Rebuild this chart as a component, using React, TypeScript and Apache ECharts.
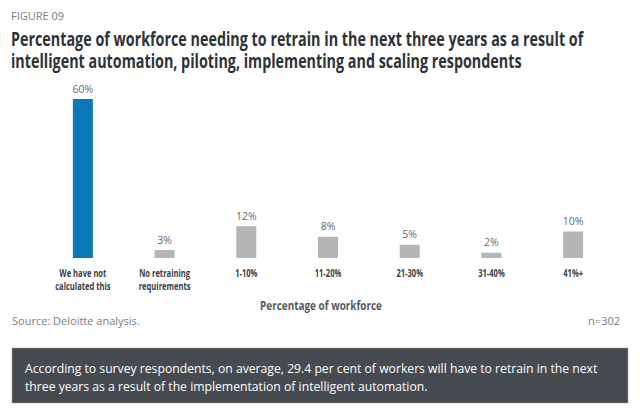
import React, { useEffect, useRef } from "react";
import * as echarts from "echarts";

const categories = [
  "We have not\ncalculated this",
  "No retraining\nrequirements",
  "1-10%",
  "11-20%",
  "21-30%",
  "31-40%",
  "41%+",
];
const values = [60, 3, 12, 8, 5, 2, 10];
const highlightIndex = 0;

const figureLabel = "FIGURE 09";
const titleLines = [
  "Percentage of workforce needing to retrain in the next three years as a result of",
  "intelligent automation, piloting, implementing and scaling respondents",
];
const axisTitle = "Percentage of workforce";
const sourceText = "Source: Deloitte analysis.";
const sampleText = "n=302";
const noteLines = [
  "According to survey respondents, on average, 29.4 per cent of workers will have to retrain in the next",
  "three years as a result of the implementation of intelligent automation.",
];

const SANS = "'Open Sans', 'Noto Sans', sans-serif";

function measure(text: string, font: string): number {
  const ctx = document.createElement("canvas").getContext("2d");
  if (!ctx) return text.length * 7;
  ctx.font = font;
  return ctx.measureText(text).width;
}

export default function App() {
  const ref = useRef<HTMLDivElement>(null);
  useEffect(() => {
    if (!ref.current) return;
    const chart = echarts.init(ref.current, null, { renderer: "svg" });
    chart.setOption({
      animation: false,
      backgroundColor: "#ffffff",
      grid: { left: 42, right: 26, top: 99, bottom: 154, containLabel: false },
      xAxis: {
        type: "category",
        data: categories,
        axisLine: { show: false },
        axisTick: { show: false },
        axisLabel: { show: false },
      },
      yAxis: {
        type: "value",
        min: 0,
        max: 60,
        show: false,
        splitLine: { show: false },
      },
      series: [
        {
          type: "bar",
          barWidth: 20,
          data: values.map((v, i) => ({
            value: v,
            itemStyle: { color: i === highlightIndex ? "#0a77b7" : "#b3b5b6" },
          })),
          label: {
            show: true,
            position: "top",
            distance: 5,
            formatter: "{c}%",
            fontFamily: SANS,
            fontSize: 10.5,
            color: "#666a6e",
          },
        },
      ],
    });

    const titleFont = `bold 19.5px 'Open Sans'`;
    const titleScale = 572 / measure(titleLines[0], titleFont);
    const catFont = `bold 11px 'Open Sans'`;
    const catScale = 47 / measure("We have not", catFont);
    const nameFont = `bold 13px 'Open Sans'`;
    const nameScale = 122 / measure(axisTitle, nameFont);
    const baseY = chart.convertToPixel({ yAxisIndex: 0 }, 0) as number;

    const catTexts = categories.map((c) => {
      const x = chart.convertToPixel({ xAxisIndex: 0 }, c) as number;
      return {
        type: "text",
        x,
        y: baseY + 9,
        scaleX: catScale,
        style: {
          text: c,
          fontFamily: SANS,
          fontWeight: "bold",
          fontSize: 11,
          lineHeight: 12.5,
          fill: "#3a3e44",
          align: "center",
          verticalAlign: "top",
        },
      };
    });

    chart.setOption({
      graphic: [
        ...catTexts,
        {
          type: "text",
          x: 321,
          y: baseY + 40,
          scaleX: nameScale,
          style: {
            text: axisTitle,
            fontFamily: SANS,
            fontWeight: "bold",
            fontSize: 13,
            fill: "#555a61",
            align: "center",
            verticalAlign: "top",
          },
        },
        {
          type: "text",
          x: 11,
          y: 10,
          style: { text: figureLabel, fontFamily: SANS, fontSize: 11, fill: "#7a7e82" },
        },
        {
          type: "text",
          x: 11,
          y: 28,
          scaleX: titleScale,
          style: {
            text: titleLines.join("\n"),
            fontFamily: SANS,
            fontWeight: "bold",
            fontSize: 19.5,
            lineHeight: 22,
            fill: "#2f3338",
          },
        },
        {
          type: "text",
          x: 12,
          y: 315,
          style: { text: sourceText, fontFamily: SANS, fontSize: 11, fill: "#7a7e82" },
        },
        {
          type: "text",
          x: 620,
          y: 315,
          style: { text: sampleText, fontFamily: SANS, fontSize: 11, fill: "#7a7e82", align: "right" },
        },
        {
          type: "rect",
          shape: { x: 12, y: 348, width: 616, height: 55 },
          style: { fill: "#464a51", stroke: "#9a9da0", lineWidth: 0.5 },
        },
        {
          type: "text",
          x: 25,
          y: 359,
          style: {
            text: noteLines.join("\n"),
            fontFamily: SANS,
            fontSize: 12.2,
            lineHeight: 18,
            fill: "#ffffff",
          },
        },
      ],
    });
    return () => chart.dispose();
  }, []);
  return (
    <div
      ref={ref}
      style={{ position: "absolute", left: 0, top: 0, width: 640, height: 412 }}
    />
  );
}
